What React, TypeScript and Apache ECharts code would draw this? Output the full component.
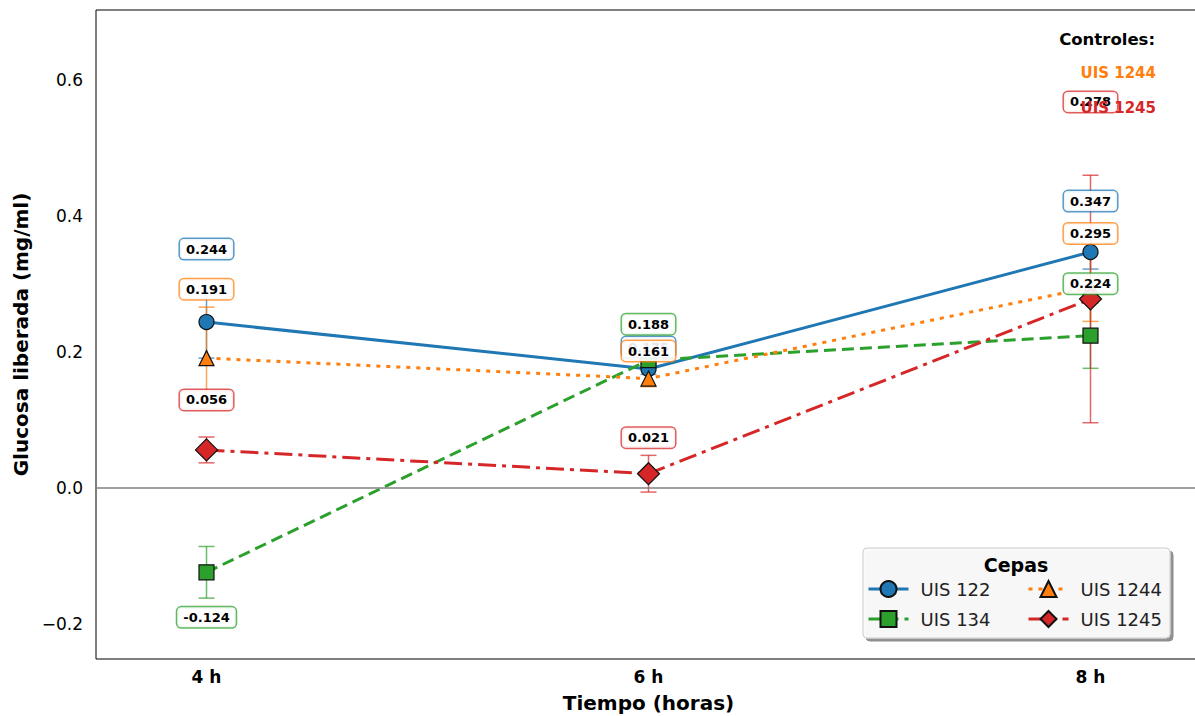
import React, { useEffect, useRef } from "react";
import * as echarts from "echarts";

const hours = [4, 6, 8];
const strainNames = ["UIS 122", "UIS 134", "UIS 1244", "UIS 1245"];
const uis122 = [0.244, 0.175, 0.347];
const uis134 = [-0.124, 0.188, 0.224];
const uis1244 = [0.191, 0.161, 0.295];
const uis1245 = [0.056, 0.021, 0.278];
const err122 = [0.053, 0.008, 0.025];
const err134 = [0.038, 0.006, 0.048];
const err1244 = [0.075, 0.012, 0.05];
const err1245 = [0.019, 0.027, 0.182];
const yTicks = [-0.2, 0, 0.2, 0.4, 0.6];
const xTicks = [4, 6, 8];
const legendCol1 = ["UIS 122", "UIS 134"];
const legendCol2 = ["UIS 1244", "UIS 1245"];

// styling (pixel label offsets relative to each point)
const colors = ["#1f77b4", "#2ca02c", "#ff7f0e", "#d62728"];
const symbols = ["circle", "rect", "triangle", "diamond"];
const symbolSizes = [15, 15, 15, 22];
const lineTypes: any[] = ["solid", [12, 6], [4, 6], [18, 6, 4, 6]];
const labelOffsets = [
  [-73, -22, -51],
  [45, -36, -52],
  [-69, -27.5, -54],
  [-50, -36, -197],
];

const FONT = "DejaVu Sans";

function withAlpha(hex: string, a: number) {
  const r = parseInt(hex.slice(1, 3), 16);
  const g = parseInt(hex.slice(3, 5), 16);
  const b = parseInt(hex.slice(5, 7), 16);
  return `rgba(${r},${g},${b},${a})`;
}

export default function App() {
  const ref = useRef<HTMLDivElement>(null);
  useEffect(() => {
    if (!ref.current) return;
    const chart = echarts.init(ref.current, undefined, { renderer: "svg" });
    const values = [uis122, uis134, uis1244, uis1245];
    const errs = [err122, err134, err1244, err1245];

    const errSeries = values.map((vals, i) => ({
      type: "custom",
      name: "err " + strainNames[i],
      z: 1,
      silent: true,
      data: hours.map((h, j) => [h, vals[j], errs[i][j]]),
      renderItem: (params: any, api: any) => {
        const x = api.value(0);
        const y = api.value(1);
        const e = api.value(2);
        const top = api.coord([x, y + e]);
        const bot = api.coord([x, y - e]);
        const half = 8;
        const style = { stroke: withAlpha(colors[i], 0.7), lineWidth: 1.5 };
        return {
          type: "group",
          children: [
            { type: "line", shape: { x1: top[0], y1: top[1], x2: bot[0], y2: bot[1] }, style },
            { type: "line", shape: { x1: top[0] - half, y1: top[1], x2: top[0] + half, y2: top[1] }, style },
            { type: "line", shape: { x1: bot[0] - half, y1: bot[1], x2: bot[0] + half, y2: bot[1] }, style },
          ],
        };
      },
    }));

    const lineSeries = values.map((vals, i) => ({
      type: "line",
      name: strainNames[i],
      z: 2,
      symbol: symbols[i],
      symbolSize: symbolSizes[i],
      showAllSymbol: true,
      lineStyle: { color: colors[i], width: 3, type: lineTypes[i], cap: "butt" },
      itemStyle: { color: colors[i], borderColor: "#111", borderWidth: 1.2 },
      data: hours.map((h, j) => ({
        value: [h, vals[j]],
        label: { offset: [0, labelOffsets[i][j]] },
      })),
      label: {
        show: true,
        position: "inside",
        formatter: (p: any) => p.value[1].toFixed(3),
        fontFamily: FONT,
        fontWeight: "bold",
        fontSize: 13,
        color: "#000",
        backgroundColor: "rgba(255,255,255,0.9)",
        borderColor: withAlpha(colors[i], 0.75),
        borderWidth: 1.5,
        borderRadius: 4,
        padding: [4, 6, 3, 6],
      },
      emphasis: { disabled: true },
      markLine:
        i === 0
          ? {
              silent: true,
              symbol: ["none", "none"],
              label: { show: false },
              lineStyle: { color: "#808080", width: 1.5, type: "solid" },
              data: [{ yAxis: 0 }],
            }
          : undefined,
    }));

    const legendBase = {
      orient: "vertical",
      top: 580,
      padding: 0,
      itemGap: 12,
      itemWidth: 40,
      itemHeight: 20,
      selectedMode: false,
      lineStyle: { width: 3 },
      textStyle: { fontFamily: FONT, fontSize: 18, color: "#222", padding: [0, 0, 0, 7] },
    };

    chart.setOption({
      animation: false,
      backgroundColor: "#fff",
      grid: {
        left: 96,
        top: 10,
        width: 1105,
        height: 649,
        show: true,
        borderColor: "#000",
        borderWidth: 1,
        backgroundColor: "transparent",
        outerBoundsMode: "none",
        containLabel: false,
      },
      xAxis: {
        type: "value",
        min: 3.5,
        max: 8.5,
        splitLine: { show: false },
        axisLine: { show: false },
        axisTick: { show: false },
        axisLabel: {
          customValues: xTicks,
          formatter: (v: number) => `${v} h`,
          fontFamily: FONT,
          fontWeight: "bold",
          fontSize: 17,
          color: "#000",
          margin: 9,
        },
        name: "Tiempo (horas)",
        nameLocation: "middle",
        nameGap: 34,
        nameTextStyle: { fontFamily: FONT, fontWeight: "bold", fontSize: 20, color: "#000" },
      },
      yAxis: {
        type: "value",
        min: -0.2515,
        max: 0.703,
        splitLine: { show: false },
        axisLine: { show: false },
        axisTick: { show: false },
        axisLabel: {
          customValues: yTicks,
          formatter: (v: number) => (v < 0 ? "\u2212" + Math.abs(v).toFixed(1) : v.toFixed(1)),
          fontFamily: FONT,
          fontSize: 17,
          color: "#000",
          margin: 13,
        },
        name: "Glucosa liberada (mg/ml)",
        nameLocation: "middle",
        nameGap: 63,
        nameTextStyle: { fontFamily: FONT, fontWeight: "bold", fontSize: 20, color: "#000" },
      },
      legend: [
        { ...legendBase, data: legendCol1, left: 867 },
        { ...legendBase, data: legendCol2, left: 1027 },
      ],
      graphic: [
        {
          type: "rect",
          z: 1,
          shape: { x: 863, y: 548, width: 307, height: 90, r: 4 },
          style: {
            fill: "rgba(250,250,250,0.95)",
            stroke: "#cccccc",
            lineWidth: 1,
            shadowColor: "rgba(0,0,0,0.45)",
            shadowOffsetX: 3,
            shadowOffsetY: 3,
            shadowBlur: 1,
          },
        },
        {
          type: "text",
          x: 1016,
          y: 565,
          style: {
            text: "Cepas",
            font: `bold 19px "${FONT}"`,
            fill: "#000",
            textAlign: "center",
            textVerticalAlign: "middle",
          },
          z: 100,
        },
        {
          type: "text",
          x: 1155,
          y: 39,
          style: {
            text: "Controles:",
            font: `bold 16.5px "${FONT}"`,
            fill: "#000",
            textAlign: "right",
            textVerticalAlign: "middle",
          },
          z: 100,
        },
        {
          type: "text",
          x: 1156,
          y: 73,
          style: {
            text: "UIS 1244",
            font: `bold 15px "${FONT}"`,
            fill: colors[2],
            textAlign: "right",
            textVerticalAlign: "middle",
          },
          z: 100,
        },
        {
          type: "text",
          x: 1156,
          y: 108,
          style: {
            text: "UIS 1245",
            font: `bold 15px "${FONT}"`,
            fill: colors[3],
            textAlign: "right",
            textVerticalAlign: "middle",
          },
          z: 100,
        },
      ],
      series: [...errSeries, ...lineSeries],
    });
    return () => chart.dispose();
  }, []);
  return (
    <div
      ref={ref}
      style={{ position: "absolute", left: 0, top: 0, width: 1195, height: 716 }}
    />
  );
}
